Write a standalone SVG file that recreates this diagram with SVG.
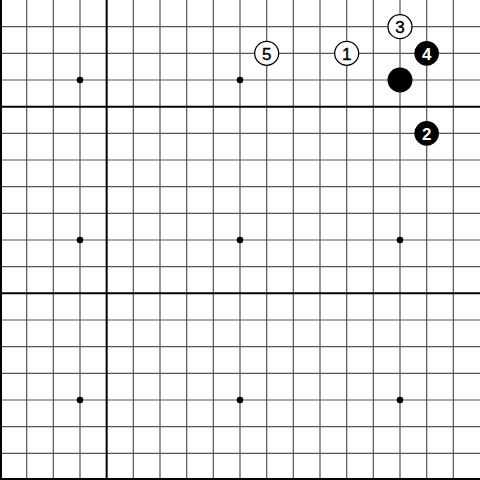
<svg xmlns="http://www.w3.org/2000/svg" width="480" height="480" viewBox="0 0 480 480">
<style>
.g{stroke:#555;stroke-width:1.2;fill:none}
.t{stroke:#000;stroke-width:2;fill:none}
.star{fill:#000}
.w{fill:#fff;stroke:#000;stroke-width:1.3}
.b{fill:#000}
.lw{font-family:"Liberation Sans",Arial,sans-serif;font-size:17px;text-anchor:middle;fill:#000;stroke:#000;stroke-width:0.4}
.lb{font-family:"Liberation Sans",Arial,sans-serif;font-size:17px;font-weight:bold;text-anchor:middle;fill:#fff}
</style>
<rect width="480" height="480" fill="#fff"/>
<g id="connectors">
<path class="g" d="M26.67 0V480M53.33 0V480M80 0V480M133.33 0V480M160 0V480M186.67 0V480M213.33 0V480M240 0V480M266.67 0V480M293.33 0V480M320 0V480M346.67 0V480M373.33 0V480M400 0V480M426.67 0V480M453.33 0V480"/>
<path class="g" d="M0 26.67H480M0 53.33H480M0 80H480M0 133.33H480M0 160H480M0 186.67H480M0 213.33H480M0 240H480M0 266.67H480M0 320H480M0 346.67H480M0 373.33H480M0 400H480M0 426.67H480M0 453.33H480"/>
<path class="t" d="M1 0V480M106.67 0V480M0 106.67H480M0 293.33H480M0 479H480"/>
</g>
<g id="stars">
<circle class="star" cx="80" cy="80" r="3.3"/>
<circle class="star" cx="240" cy="80" r="3.3"/>
<circle class="star" cx="80" cy="240" r="3.3"/>
<circle class="star" cx="240" cy="240" r="3.3"/>
<circle class="star" cx="400" cy="240" r="3.3"/>
<circle class="star" cx="80" cy="400" r="3.3"/>
<circle class="star" cx="240" cy="400" r="3.3"/>
<circle class="star" cx="400" cy="400" r="3.3"/>
</g>
<g id="stone-black"><circle class="b" cx="400" cy="80" r="12.5"/></g>
<g id="stone-1"><circle class="w" cx="346.67" cy="53.33" r="12"/><text class="lw" x="346.67" y="59.5">1</text></g>
<g id="stone-2"><circle class="b" cx="426.67" cy="133.33" r="12.3"/><text class="lb" x="426.67" y="139.5">2</text></g>
<g id="stone-3"><circle class="w" cx="400" cy="26.67" r="12"/><text class="lw" x="400" y="32.8">3</text></g>
<g id="stone-4"><circle class="b" cx="426.67" cy="53.33" r="12.3"/><text class="lb" x="426.67" y="59.5">4</text></g>
<g id="stone-5"><circle class="w" cx="266.67" cy="53.33" r="12"/><text class="lw" x="266.67" y="59.5">5</text></g>
</svg>
